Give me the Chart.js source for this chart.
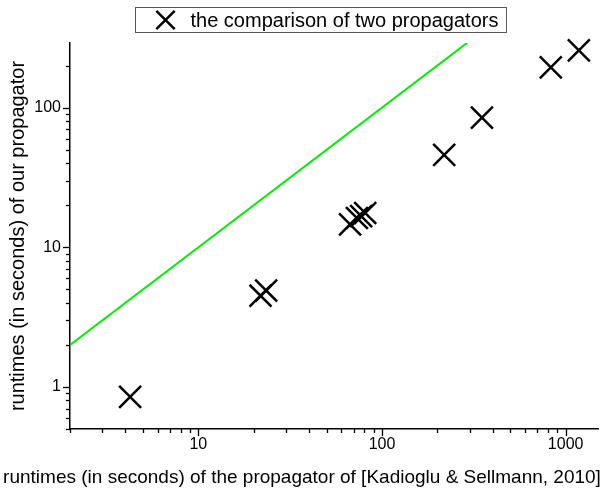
<!DOCTYPE html>
<html>
<head>
<meta charset="utf-8">
<script src="https://cdn.jsdelivr.net/npm/chart.js@4"></script>
<style>
  body { margin: 0; background: #fff; }
  canvas { display: block; }
</style>
</head>
<body>
<canvas id="grafico" width="604" height="490"></canvas>
<script>
//Datos
const seriesLabel = 'the comparison of two propagators';
const kadiogluTimes = [4.25, 21.8, 23.4, 67, 73, 77, 81, 218, 350, 830, 1180];
const ourTimes = [0.85, 4.5, 4.9, 14.6, 16.2, 16.7, 17.6, 45.9, 84.7, 194, 257];
//Linea y = x
const diagonalX = [2, 1500];
const diagonalY = [2, 1500];
const xLimits = [2, 1500];
const yLimits = [0.5, 290];
const xTitle = 'runtimes (in seconds) of the propagator of [Kadioglu & Sellmann, 2010]';
const yTitle = 'runtimes (in seconds) of our propagator';

const FONT = '"Liberation Sans", Arial, sans-serif';

function isPow10(v) {
    const l = Math.log10(v);
    return Math.abs(l - Math.round(l)) < 1e-9;
}
function isNice(v) {
    const m = v / Math.pow(10, Math.floor(Math.log10(v) + 1e-9));
    return Math.abs(m - Math.round(m)) < 1e-6;
}

//Marcas de los ejes (mayores largas, menores cortas)
const tickMarks = {
    id: 'tickMarks',
    afterDraw(chart) {
        const ctx = chart.ctx;
        ctx.save();
        ctx.strokeStyle = '#000';
        ctx.lineWidth = 1.3;
        const xs = chart.scales.x, ys = chart.scales.y;
        xs.ticks.forEach(t => {
            if (!isNice(t.value)) return;
            const px = Math.round(xs.getPixelForValue(t.value)) + 0.5;
            const len = isPow10(t.value) ? 7 : 4;
            ctx.beginPath();
            ctx.moveTo(px, xs.top);
            ctx.lineTo(px, xs.top + len);
            ctx.stroke();
        });
        ys.ticks.forEach(t => {
            if (!isNice(t.value)) return;
            const py = Math.round(ys.getPixelForValue(t.value)) + 0.5;
            const len = isPow10(t.value) ? 7 : 4;
            ctx.beginPath();
            ctx.moveTo(ys.right, py);
            ctx.lineTo(ys.right - len, py);
            ctx.stroke();
        });
        ctx.restore();
    }
};

//Titulo del eje x (mas ancho que el eje, por eso se dibuja aparte)
const wideXTitle = {
    id: 'wideXTitle',
    afterDraw(chart) {
        const ctx = chart.ctx;
        ctx.save();
        ctx.font = '19px ' + FONT;
        ctx.fillStyle = '#000';
        ctx.textAlign = 'center';
        ctx.textBaseline = 'middle';
        ctx.fillText(xTitle, chart.width / 2, chart.scales.x.bottom - 12);
        ctx.restore();
    }
};

//Leyenda con recuadro
const boxedLegend = {
    id: 'boxedLegend',
    afterDraw(chart) {
        const ctx = chart.ctx;
        const text = chart.data.datasets[0].label;
        ctx.save();
        ctx.font = '20px ' + FONT;
        const tw = ctx.measureText(text).width;
        const w = tw + 63, h = 25;
        const cx = 320;
        const left = Math.round(cx - w / 2) + 0.5, top = 7.5;
        ctx.strokeStyle = '#555';
        ctx.lineWidth = 1;
        ctx.strokeRect(left, top, w, h);
        ctx.strokeStyle = '#000';
        ctx.lineWidth = 2.5;
        Chart.helpers.drawPoint(ctx, { pointStyle: 'crossRot', radius: 13, borderWidth: 2.5 }, left + 30, top + h / 2);
        ctx.fillStyle = '#000';
        ctx.textBaseline = 'middle';
        ctx.fillText(text, left + 55, top + h / 2 + 1);
        ctx.restore();
    }
};

const ctx = document.getElementById('grafico').getContext('2d');
new Chart(ctx, {
    type: 'scatter',
    data: {
        datasets: [
            {
                label: seriesLabel,
                data: kadiogluTimes.map((x, i) => ({ x: x, y: ourTimes[i] })),
                pointStyle: 'crossRot',
                pointRadius: 15.5,
                pointHoverRadius: 15.5,
                borderColor: '#000',
                backgroundColor: '#000',
                pointBorderWidth: 2.5,
                clip: false
            },
            {
                type: 'line',
                label: 'y = x',
                data: diagonalX.map((x, i) => ({ x: x, y: diagonalY[i] })),
                borderColor: '#00ee00',
                borderWidth: 2,
                pointRadius: 0,
                fill: false
            }
        ]
    },
    options: {
        responsive: false,
        animation: false,
        layout: { autoPadding: false, padding: { top: 43, right: 6, left: 0, bottom: 0 } },
        plugins: {
            legend: { display: false },
            tooltip: { enabled: false }
        },
        scales: {
            x: {
                type: 'logarithmic',
                min: xLimits[0],
                max: xLimits[1],
                afterFit: s => { s.height = 61; s.paddingLeft = 0; s.paddingRight = 0; },
                grid: { display: false, tickLength: 0 },
                border: { display: true, color: '#000', width: 1.5 },
                ticks: {
                    autoSkip: false,
                    maxRotation: 0,
                    padding: 6,
                    color: '#000',
                    font: { family: FONT, size: 16 },
                    callback: v => isPow10(v) ? String(Math.round(v)) : ''
                },
                title: { display: false }
            },
            y: {
                type: 'logarithmic',
                min: yLimits[0],
                max: yLimits[1],
                afterFit: s => { s.width = 70; s.paddingTop = 0; s.paddingBottom = 0; },
                grid: { display: false, tickLength: 0 },
                border: { display: true, color: '#000', width: 1.5 },
                ticks: {
                    autoSkip: false,
                    padding: 9,
                    color: '#000',
                    font: { family: FONT, size: 16 },
                    callback: v => isPow10(v) ? String(Math.round(v)) : ''
                },
                title: {
                    display: true,
                    text: yTitle,
                    color: '#000',
                    font: { family: FONT, size: 20 },
                    padding: { top: 6, bottom: 0 }
                }
            }
        }
    },
    plugins: [tickMarks, wideXTitle, boxedLegend]
});
</script>
</body>
</html>
